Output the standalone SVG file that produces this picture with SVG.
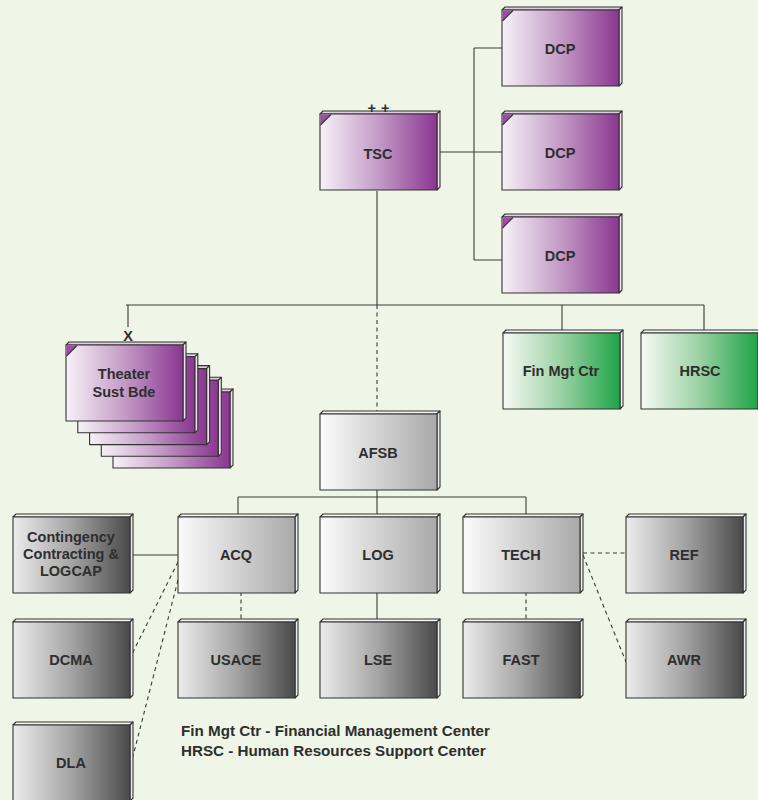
<svg xmlns="http://www.w3.org/2000/svg" xmlns:xlink="http://www.w3.org/1999/xlink" width="758" height="800" viewBox="0 0 758 800">
  <style>
    .edge { fill: none; stroke: #3a3a3a; stroke-width: 1.1; }
    .dash { stroke-dasharray: 4 3.5; }
    .outline { stroke: #333; stroke-width: 1.1; stroke-linejoin: round; }
    .lbl { font-family: "Liberation Sans", Arial, sans-serif; font-weight: bold; font-size: 14.5px; fill: #2e2e2e; text-anchor: middle; }
    .legend { font-family: "Liberation Sans", Arial, sans-serif; font-weight: bold; font-size: 15.2px; fill: #2e2e2e; }
  </style>
  <defs>
    <linearGradient id="gPurple" x1="0" y1="0" x2="1" y2="0">
      <stop offset="0" stop-color="#f7f1f8"/>
      <stop offset="0.5" stop-color="#c39bc6"/>
      <stop offset="1" stop-color="#8a3690"/>
    </linearGradient>
    <linearGradient id="gGreen" x1="0" y1="0" x2="1" y2="0">
      <stop offset="0" stop-color="#f6faf4"/>
      <stop offset="0.5" stop-color="#9bd1a4"/>
      <stop offset="1" stop-color="#1da447"/>
    </linearGradient>
    <linearGradient id="gLight" x1="0" y1="0" x2="1" y2="0">
      <stop offset="0" stop-color="#fbfbfb"/>
      <stop offset="1" stop-color="#a9a9a9"/>
    </linearGradient>
    <linearGradient id="gDark" x1="0" y1="0" x2="1" y2="0">
      <stop offset="0" stop-color="#ececec"/>
      <stop offset="0.5" stop-color="#a4a4a4"/>
      <stop offset="1" stop-color="#4a4a4a"/>
    </linearGradient>

    <!-- bevelled box templates, 117 x 76, drawn at the origin -->
    <g id="box-purple">
      <polygon class="outline" points="0,0 3,-3 120,-3 117,0" fill="#e2cbe4"/>
      <polygon class="outline" points="117,0 120,-3 120,73 117,76" fill="#efe3f0"/>
      <rect class="outline" width="117" height="76" fill="url(#gPurple)"/>
      <path d="M0.5,0.5 H11 L0.5,11 Z" fill="#9c4fa1"/>
      <path class="outline" d="M0.5,11 L11,0.5" fill="none"/>
    </g>
    <g id="box-green">
      <polygon class="outline" points="0,0 3,-3 120,-3 117,0" fill="#f4f8f2"/>
      <polygon class="outline" points="117,0 120,-3 120,73 117,76" fill="#f2f7ef"/>
      <rect class="outline" width="117" height="76" fill="url(#gGreen)"/>
    </g>
    <g id="box-light">
      <polygon class="outline" points="0,0 3,-3 120,-3 117,0" fill="#f5f5f5"/>
      <polygon class="outline" points="117,0 120,-3 120,73 117,76" fill="#f0f0f0"/>
      <rect class="outline" width="117" height="76" fill="url(#gLight)"/>
    </g>
    <g id="box-dark">
      <polygon class="outline" points="0,0 3,-3 120,-3 117,0" fill="#f5f5f5"/>
      <polygon class="outline" points="117,0 120,-3 120,73 117,76" fill="#eeeeee"/>
      <rect class="outline" width="117" height="76" fill="url(#gDark)"/>
    </g>
  </defs>

  <rect width="758" height="800" fill="#eff6e7"/>

  <!-- connectors -->
  <g id="connectors">
    <path class="edge" d="M437,152 H502 M474,48 V260 M474,48 H502 M474,260 H502"/>
    <path class="edge" d="M377,191 V305 M126,305 H704 M128,305 V327 M562,305 V332 M704,305 V332"/>
    <path class="edge dash" d="M377,305 V414"/>
    <path class="edge" d="M377,490 V497 M238,497 H526 M238,497 V517 M377,497 V517 M526,497 V517"/>
    <path class="edge" d="M129,555 H178"/>
    <path class="edge" d="M377,592 V622"/>
    <path class="edge dash" d="M241,592 V622 M526,592 V622"/>
    <path class="edge dash" d="M583,553 H626 M583,555 L626,662"/>
    <path class="edge dash" d="M178,562 L131,656 M178,580 L131,764"/>
  </g>

  <!-- command level -->
  <g id="tsc">
    <use xlink:href="#box-purple" x="320" y="114"/>
    <text class="lbl" x="381" y="113" font-size="15" letter-spacing="5">++</text>
    <text class="lbl" x="378" y="159">TSC</text>
  </g>
  <g id="dcp-1">
    <use xlink:href="#box-purple" x="502" y="10"/>
    <text class="lbl" x="560" y="54">DCP</text>
  </g>
  <g id="dcp-2">
    <use xlink:href="#box-purple" x="502" y="114"/>
    <text class="lbl" x="560" y="158">DCP</text>
  </g>
  <g id="dcp-3">
    <use xlink:href="#box-purple" x="502" y="217"/>
    <text class="lbl" x="560" y="261">DCP</text>
  </g>

  <g id="theater-sust-bde">
    <use xlink:href="#box-purple" x="113" y="392"/>
    <use xlink:href="#box-purple" x="101.3" y="380.3"/>
    <use xlink:href="#box-purple" x="89.6" y="368.6"/>
    <use xlink:href="#box-purple" x="77.8" y="356.8"/>
    <use xlink:href="#box-purple" x="66" y="345"/>
    <text class="lbl" x="128" y="341" font-size="15">X</text>
    <text class="lbl" x="124" y="379">Theater</text>
    <text class="lbl" x="124" y="397">Sust Bde</text>
  </g>

  <g id="fin-mgt-ctr">
    <use xlink:href="#box-green" x="503" y="333"/>
    <text class="lbl" x="561" y="376">Fin Mgt Ctr</text>
  </g>
  <g id="hrsc">
    <use xlink:href="#box-green" x="641" y="333"/>
    <text class="lbl" x="700" y="376">HRSC</text>
  </g>

  <g id="afsb">
    <use xlink:href="#box-light" x="320" y="414"/>
    <text class="lbl" x="378" y="458">AFSB</text>
  </g>

  <!-- AFSB elements -->
  <g id="contingency-contracting">
    <use xlink:href="#box-dark" x="13" y="517"/>
    <text class="lbl" x="71" y="542">Contingency</text>
    <text class="lbl" x="71" y="559">Contracting &amp;</text>
    <text class="lbl" x="71" y="576">LOGCAP</text>
  </g>
  <g id="acq">
    <use xlink:href="#box-light" x="178" y="517"/>
    <text class="lbl" x="236" y="560">ACQ</text>
  </g>
  <g id="log">
    <use xlink:href="#box-light" x="320" y="517"/>
    <text class="lbl" x="378" y="560">LOG</text>
  </g>
  <g id="tech">
    <use xlink:href="#box-light" x="463" y="517"/>
    <text class="lbl" x="521" y="560">TECH</text>
  </g>
  <g id="ref">
    <use xlink:href="#box-dark" x="626" y="517"/>
    <text class="lbl" x="684" y="560">REF</text>
  </g>

  <g id="dcma">
    <use xlink:href="#box-dark" x="13" y="622"/>
    <text class="lbl" x="71" y="665">DCMA</text>
  </g>
  <g id="usace">
    <use xlink:href="#box-dark" x="178" y="622"/>
    <text class="lbl" x="236" y="665">USACE</text>
  </g>
  <g id="lse">
    <use xlink:href="#box-dark" x="320" y="622"/>
    <text class="lbl" x="378" y="665">LSE</text>
  </g>
  <g id="fast">
    <use xlink:href="#box-dark" x="463" y="622"/>
    <text class="lbl" x="521" y="665">FAST</text>
  </g>
  <g id="awr">
    <use xlink:href="#box-dark" x="626" y="622"/>
    <text class="lbl" x="684" y="665">AWR</text>
  </g>
  <g id="dla">
    <use xlink:href="#box-dark" x="13" y="725"/>
    <text class="lbl" x="71" y="768">DLA</text>
  </g>

  <!-- legend -->
  <g id="legend">
    <text class="legend" x="181" y="736">Fin Mgt Ctr - Financial Management Center</text>
    <text class="legend" x="181" y="756">HRSC - Human Resources Support Center</text>
  </g>
</svg>
